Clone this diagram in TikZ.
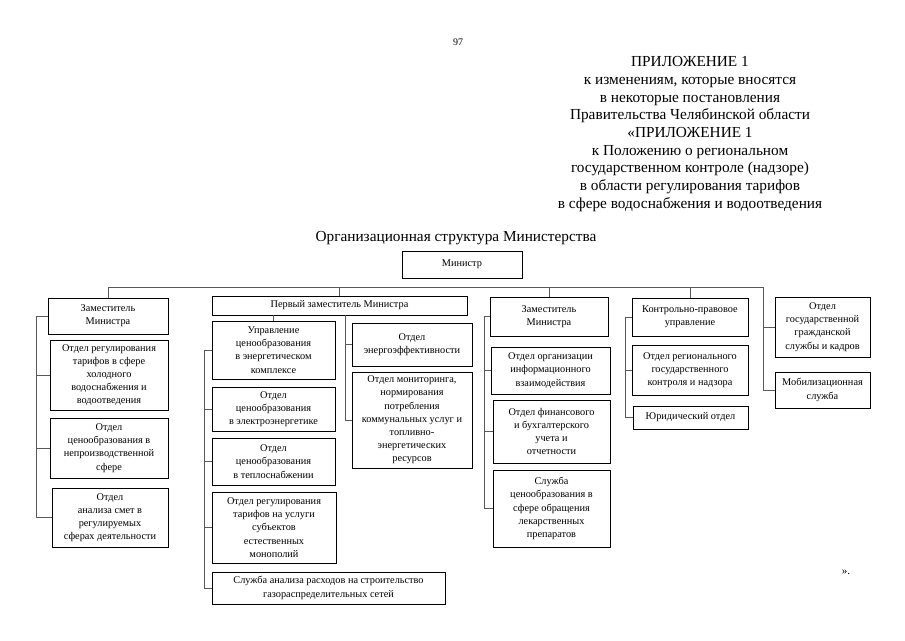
\documentclass[tikz,border=0pt]{standalone}
\usepackage{fontspec}
\setmainfont{Liberation Serif}
\begin{document}
\begin{tikzpicture}[x=1pt,y=-1pt,
  box/.style={draw=black, line width=0.9pt, align=center, inner sep=0pt,
    font=\fontsize{10.3}{13.2}\selectfont},
  link/.style={draw=black!65, line width=0.7pt},
  head/.style={align=center, inner sep=0pt, font=\fontsize{15.3}{17.7}\selectfont}]
\useasboundingbox[fill=white] (0,0) rectangle (905,640);

\node[font=\fontsize{10}{12}\selectfont] (page) at (458,42) {97};
\node[head] (hdr) at (690,134) {ПРИЛОЖЕНИЕ 1\\к изменениям, которые вносятся\\в некоторые постановления\\Правительства Челябинской области\\«ПРИЛОЖЕНИЕ 1\\к Положению о региональном\\государственном контроле (надзоре)\\в области регулирования тарифов\\в сфере водоснабжения и водоотведения};
\node[head] (title) at (456,238) {Организационная структура Министерства};
\node[font=\fontsize{11}{13}\selectfont] (endq) at (846,572) {».};

% boxes
\node[box, minimum width=120, minimum height=27] (min) at (462,264.5) {Министр};

\node[box, minimum width=120, minimum height=36] (zam1) at (108,316) {Заместитель\\Министра};
\node[box, minimum width=118, minimum height=70] (zam1a) at (109,375) {Отдел регулирования\\тарифов в сфере\\холодного\\водоснабжения и\\водоотведения};
\node[box, minimum width=118, minimum height=60] (zam1b) at (109,448) {Отдел\\ценообразования в\\непроизводственной\\сфере};
\node[box, minimum width=116, minimum height=59] (zam1c) at (110,517.5) {Отдел\\анализа смет в\\регулируемых\\сферах деятельности};

\node[box, minimum width=255, minimum height=19] (first) at (339.5,305.5) {Первый заместитель Министра};
\node[box, minimum width=123, minimum height=58] (f1) at (273.5,350) {Управление\\ценообразования\\в энергетическом\\комплексе};
\node[box, minimum width=123, minimum height=44] (f2) at (273.5,409) {Отдел\\ценообразования\\в электроэнергетике};
\node[box, minimum width=123, minimum height=47] (f3) at (273.5,461.5) {Отдел\\ценообразования\\в теплоснабжении};
\node[box, minimum width=124, minimum height=71] (f4) at (274,527.5) {Отдел регулирования\\тарифов на услуги\\субъектов\\естественных\\монополий};
\node[box, minimum width=233, minimum height=32] (f5) at (328.5,588) {Служба анализа расходов на строительство\\газораспределительных сетей};
\node[box, minimum width=120, minimum height=43] (g1) at (412,344.5) {Отдел\\энергоэффективности};
\node[box, minimum width=120, minimum height=96] (g2) at (412,420) {Отдел мониторинга,\\нормирования\\потребления\\коммунальных услуг и\\топливно-\\энергетических\\ресурсов};

\node[box, minimum width=118, minimum height=39] (zam2) at (549,316.5) {Заместитель\\Министра};
\node[box, minimum width=119, minimum height=47] (z2a) at (550.5,370.5) {Отдел организации\\информационного\\взаимодействия};
\node[box, minimum width=117, minimum height=63] (z2b) at (551.5,431.5) {Отдел финансового\\и бухгалтерского\\учета и\\отчетности};
\node[box, minimum width=117, minimum height=77] (z2c) at (551.5,508.5) {Служба\\ценообразования в\\сфере обращения\\лекарственных\\препаратов};

\node[box, minimum width=116, minimum height=38] (kp) at (690,317) {Контрольно-правовое\\управление};
\node[box, minimum width=116, minimum height=50] (kp1) at (690,370) {Отдел регионального\\государственного\\контроля и надзора};
\node[box, minimum width=115, minimum height=23] (kp2) at (690.5,417.5) {Юридический отдел};

\node[box, minimum width=95, minimum height=60] (r1) at (822.5,327) {Отдел\\государственной\\гражданской\\службы и кадров};
\node[box, minimum width=95, minimum height=36] (r2) at (822.5,390) {Мобилизационная\\служба};

% connectors
\coordinate (busR) at (763,287);
\draw[link] (zam1.north) |- (busR) |- (r2.west);
\draw[link] (busR |- r1.west) -- (r1.west);
\draw[link] (first.north) -- (first.north |- busR);
\draw[link] (zam2.north) -- (zam2.north |- busR);
\draw[link] (kp.north) -- (kp.north |- busR);

\coordinate (v1) at (36,0);
\draw[link] (zam1.west) -- (zam1.west -| v1) |- (zam1c.west);
\draw[link] (zam1a.west -| v1) -- (zam1a.west);
\draw[link] (zam1b.west -| v1) -- (zam1b.west);

\coordinate (v2) at (204,0);
\draw[link] (f1.west) -- (f1.west -| v2) |- (f5.west);
\draw[link] (f2.west -| v2) -- (f2.west);
\draw[link] (f3.west -| v2) -- (f3.west);
\draw[link] (f4.west -| v2) -- (f4.west);
\draw[link] (first.south -| f1.north) -- (f1.north);

\coordinate (v3) at (345,0);
\draw[link] (first.south -| v3) |- (g2.west);
\draw[link] (g1.west -| v3) -- (g1.west);

\coordinate (v4) at (484,0);
\draw[link] (zam2.west) -- (zam2.west -| v4) |- (z2c.west);
\draw[link] (z2a.west -| v4) -- (z2a.west);
\draw[link] (z2b.west -| v4) -- (z2b.west);

\coordinate (v5) at (625,0);
\draw[link] (kp.west) -- (kp.west -| v5) |- (kp2.west);
\draw[link] (kp1.west -| v5) -- (kp1.west);
\end{tikzpicture}
\end{document}
